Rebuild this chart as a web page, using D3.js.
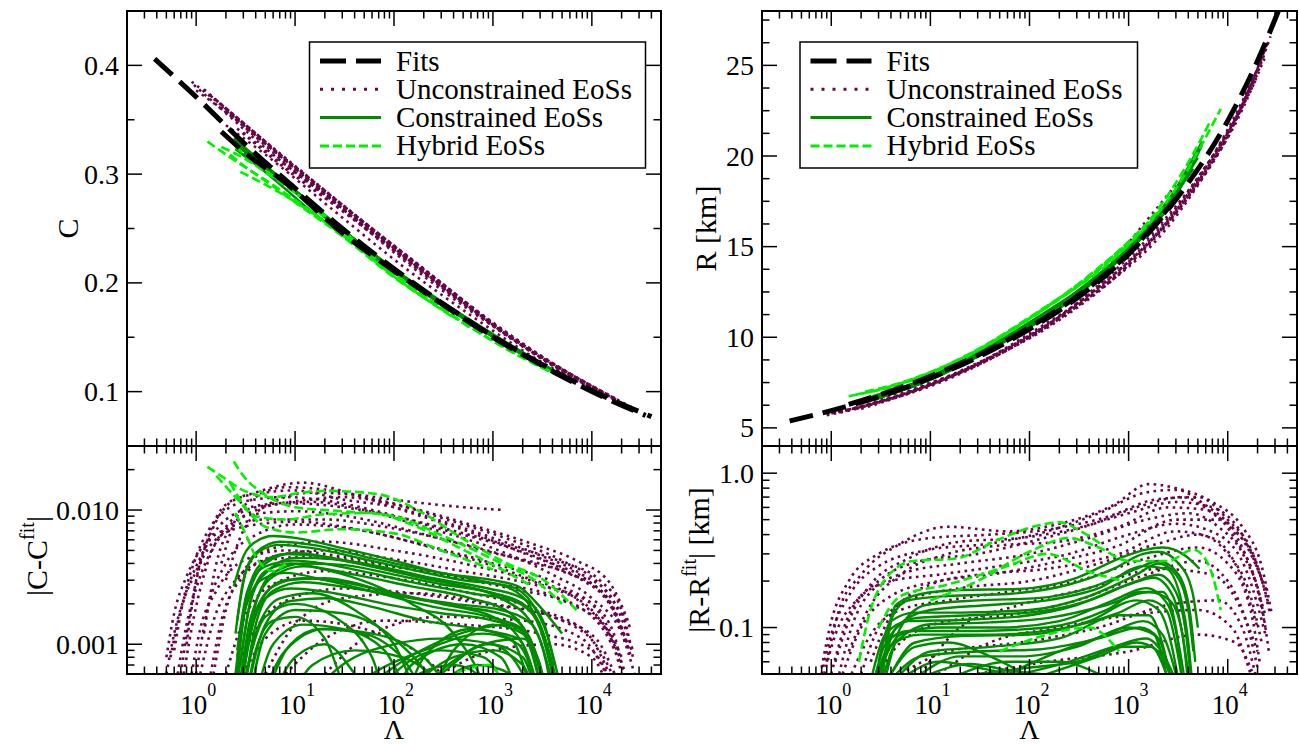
<!DOCTYPE html>
<html>
<head>
<meta charset="utf-8">
<title>Universal relations</title>
<script src="https://cdn.jsdelivr.net/npm/d3@7"></script>
<style>
  body { margin: 0; background: #fff; }
  svg text { font-family: 'Liberation Serif', serif; }
</style>
</head>
<body>
<svg id="mainsvg" width="1299" height="744"></svg>
<script>

// ---- data: [Lambda, value] ----
// fits (black dashed)
const fitC  = [[0.38,0.406],[1,0.371],[3,0.329],[10,0.287],[30,0.250],[100,0.213],[300,0.182],[1000,0.151],[3000,0.126],[10000,0.101],[40000,0.077]];
const fitC2 = [[1.8,0.339],[3,0.321],[8,0.292],[30,0.246],[100,0.211],[300,0.181],[1000,0.150],[3000,0.125],[10000,0.100],[35000,0.078]];
const fitR  = [[0.38,5.38],[1,5.95],[3,6.71],[10,7.75],[30,8.9],[100,10.45],[300,12.15],[1000,14.58],[3000,17.6],[10000,21.94],[20000,25.25],[33000,28.1]];
const fitR2 = [[1.5,6.3],[3,6.8],[10,7.85],[30,9.0],[100,10.55],[300,12.25],[1000,14.65],[3000,17.65]];

// C vs Lambda
const unconC = [
  [[0.9,0.385],[2,0.360],[5,0.330],[20,0.285],[100,0.232],[500,0.182],[2000,0.142],[8000,0.110],[25000,0.086]],
  [[1.2,0.378],[3,0.347],[10,0.307],[50,0.256],[300,0.200],[1500,0.150],[6000,0.115],[20000,0.090]],
  [[1.6,0.368],[4,0.336],[15,0.294],[80,0.240],[400,0.189],[2000,0.143],[8000,0.109],[22000,0.087]],
  [[2.2,0.355],[6,0.322],[30,0.270],[150,0.222],[800,0.170],[4000,0.126],[15000,0.096]],
  [[1,0.377],[2.5,0.350],[8,0.310],[40,0.260],[200,0.212],[1000,0.163],[5000,0.121],[18000,0.093]],
  [[3,0.338],[10,0.300],[60,0.245],[300,0.196],[1500,0.149],[7000,0.111],[20000,0.089]],
  [[2,0.345],[5,0.318],[25,0.266],[120,0.216],[600,0.170],[3000,0.128],[12000,0.099]],
  [[0.95,0.382],[2,0.356],[6,0.318],[25,0.274],[120,0.225],[600,0.176],[3000,0.133],[10000,0.105],[26000,0.084]],
  [[1.4,0.372],[3.5,0.342],[12,0.300],[60,0.250],[350,0.195],[1800,0.146],[7000,0.112],[21000,0.088]],
  [[1.8,0.362],[5,0.328],[20,0.282],[100,0.228],[500,0.179],[2500,0.137],[9000,0.106]],
  [[2.6,0.342],[8,0.305],[35,0.262],[180,0.213],[900,0.165],[4000,0.124],[14000,0.097]]
];
const consC = [
  [[2.5,0.330],[5,0.308],[20,0.262],[100,0.212],[500,0.168],[2000,0.134],[5000,0.115]],
  [[2.6,0.326],[6,0.301],[25,0.255],[120,0.206],[600,0.163],[2500,0.129],[4500,0.117]],
  [[3,0.322],[8,0.292],[40,0.240],[200,0.193],[1000,0.151],[3500,0.122]],
  [[2.5,0.323],[5,0.302],[15,0.265],[80,0.216],[400,0.173],[1800,0.137],[4000,0.119]],
  [[2.4,0.333],[4,0.316],[12,0.277],[60,0.227],[300,0.183],[1500,0.143],[4800,0.116]],
  [[3,0.319],[7,0.296],[30,0.249],[150,0.201],[800,0.158],[3000,0.126]]
];
const hybC = [
  [[1.3,0.330],[2,0.318],[4,0.300],[10,0.274],[30,0.243],[100,0.205],[300,0.176],[800,0.152]],
  [[2.2,0.318],[3,0.308],[6,0.290],[15,0.265],[50,0.228],[200,0.188],[600,0.158]],
  [[2.5,0.325],[4,0.310],[8,0.290],[20,0.260],[80,0.215],[300,0.177],[1200,0.142],[5000,0.113]],
  [[2.8,0.302],[4,0.295],[8,0.280],[25,0.250],[100,0.206],[400,0.168]],
  [[1.8,0.325],[3,0.315],[6,0.297],[20,0.262],[70,0.220],[250,0.182],[1000,0.147],[3000,0.123],[7000,0.108]]
];

// |C - C_fit|
const unconDC = [
  [[0.5,0.0006],[0.6,0.0012],[0.8,0.0025],[1.2,0.005],[2,0.0085],[5,0.011],[15,0.0115],[50,0.010],[200,0.0075],[1000,0.0052],[4000,0.0033],[10000,0.0022],[20000,0.0012],[27000,0.0006]],
  [[0.7,0.0006],[0.9,0.002],[1.3,0.006],[2,0.011],[4,0.0135],[12,0.016],[40,0.013],[150,0.0095],[600,0.0068],[2000,0.0048],[6000,0.0034],[15000,0.002],[22000,0.001]],
  [[1,0.0006],[1.3,0.0018],[2,0.004],[4,0.0065],[10,0.0078],[40,0.0072],[200,0.0055],[1000,0.0040],[5000,0.0027],[12000,0.0017],[20000,0.0008]],
  [[0.55,0.0008],[0.7,0.0018],[1,0.0035],[1.5,0.0058],[3,0.0075],[10,0.0082],[50,0.0070],[300,0.0050],[2000,0.0032],[8000,0.0020],[16000,0.0011],[22000,0.0006]],
  [[1.5,0.0006],[2,0.0018],[3,0.0035],[6,0.0052],[20,0.0058],[100,0.0050],[500,0.0040],[3000,0.0028],[10000,0.0018],[18000,0.0009]],
  [[2,0.0006],[3,0.0015],[6,0.0028],[20,0.0035],[100,0.0031],[600,0.0024],[3000,0.0018],[9000,0.0012],[15000,0.0006]],
  [[1.2,0.0012],[1.6,0.004],[2.5,0.008],[5,0.0105],[15,0.0120],[30,0.0125],[100,0.011],[400,0.0082],[1500,0.006],[5000,0.0042],[12000,0.0028],[25000,0.0013]],
  [[5,0.0006],[10,0.0014],[30,0.0022],[150,0.0024],[1000,0.0020],[5000,0.0015],[12000,0.0009],[18000,0.0005]],
  [[0.8,0.0010],[1,0.003],[1.5,0.0075],[2.5,0.012],[5,0.0135],[10,0.014],[30,0.012],[100,0.0105],[300,0.0083],[1000,0.0062],[3000,0.0046],[8000,0.0033],[16000,0.0022],[26000,0.0009]],
  [[0.9,0.0006],[1.1,0.0013],[1.6,0.0025],[3,0.0042],[8,0.0050],[30,0.0045],[150,0.0036],[800,0.0029],[4000,0.0023],[12000,0.0014],[20000,0.0007]],
  [[20,0.0006],[60,0.0012],[300,0.0016],[2000,0.0015],[8000,0.0011],[14000,0.0006]],
  [[2,0.003],[3,0.007],[6,0.0115],[15,0.0135],[40,0.013],[150,0.0115],[500,0.0105],[1300,0.010]],
  [[3,0.0006],[5,0.0011],[12,0.0015],[50,0.0013],[200,0.0008],[500,0.0004]],
  [[300,0.0006],[1000,0.0009],[4000,0.0010],[10000,0.0008],[16000,0.0004]],
  [[0.6,0.0009],[0.75,0.0022],[1,0.0045],[1.4,0.0075],[2.2,0.0105],[4,0.012],[8,0.0125],[20,0.0118],[80,0.0095],[300,0.0072],[1200,0.0055],[4000,0.004],[9000,0.003],[17000,0.0018],[24000,0.0009]],
  [[1.1,0.0006],[1.5,0.0015],[2.5,0.003],[5,0.0042],[15,0.0045],[60,0.0040],[300,0.0033],[1500,0.0026],[6000,0.0020],[14000,0.0013],[20000,0.0006]],
  [[0.65,0.0006],[0.8,0.0014],[1.1,0.0032],[1.8,0.0065],[3.5,0.0092],[10,0.0098],[40,0.0088],[200,0.0066],[1000,0.0048],[5000,0.0035],[13000,0.0024],[23000,0.001]],
  [[0.5,0.0008],[0.6,0.0017],[0.8,0.0032],[1.2,0.0055],[2,0.0072],[5,0.0085],[20,0.0085],[80,0.0075],[400,0.0058],[2000,0.0042],[8000,0.0030],[16000,0.0019],[25000,0.0008]],
  [[1.4,0.0006],[1.8,0.0015],[3,0.0032],[6,0.0045],[20,0.0050],[100,0.0043],[500,0.0035],[2500,0.0028],[9000,0.0021],[16000,0.0013],[21000,0.0006]],
  [[2.5,0.0006],[4,0.0013],[8,0.0021],[30,0.0026],[150,0.0024],[800,0.0020],[4000,0.0016],[11000,0.0011],[17000,0.0006]],
  [[0.75,0.0006],[0.95,0.0016],[1.3,0.004],[2,0.0075],[4,0.0105],[10,0.0112],[30,0.0105],[100,0.009],[400,0.007],[1500,0.0054],[5000,0.0041],[12000,0.003],[20000,0.0018],[26000,0.0008]],
  [[8,0.0006],[20,0.0011],[80,0.0015],[500,0.0014],[3000,0.0012],[10000,0.0009],[16000,0.0005]],
  [[1.8,0.004],[2.5,0.0085],[4,0.0125],[8,0.0148],[20,0.0142],[60,0.0122],[200,0.0098],[700,0.0075],[2500,0.0056],[7000,0.0042],[15000,0.0029],[24000,0.0014]]
];
const consDC = [
  [[2.4,0.0027],[3,0.0045],[4,0.0058],[6,0.0064],[10,0.0062],[30,0.0052],[100,0.0042],[300,0.0034],[1000,0.0030],[1800,0.0027],[3000,0.0019],[5000,0.0012]],
  [[2.5,0.0012],[3,0.003],[4,0.0048],[7,0.0058],[15,0.0055],[50,0.0045],[200,0.0036],[700,0.0030],[1500,0.0026],[2500,0.0018],[3500,0.0010],[4500,0.0005]],
  [[2.6,0.0006],[3.2,0.002],[5,0.004],[10,0.0048],[30,0.0042],[100,0.0035],[400,0.0028],[1200,0.0022],[2500,0.0014],[3500,0.0007],[4000,0.0004]],
  [[2.7,0.0004],[3.5,0.0015],[6,0.0032],[12,0.0038],[40,0.0033],[150,0.0027],[600,0.0022],[1500,0.0017],[2500,0.0009],[3200,0.0004]],
  [[2.8,0.0004],[4,0.0018],[8,0.0030],[20,0.0031],[80,0.0025],[300,0.0020],[1000,0.0016],[2000,0.0010],[2800,0.0004]],
  [[3,0.0004],[4,0.0012],[7,0.0022],[15,0.0024],[40,0.0018],[100,0.0010],[200,0.0004],[400,0.0009],[1000,0.0014],[2000,0.0012],[3000,0.0005]],
  [[3,0.0005],[5,0.0016],[10,0.0020],[25,0.0016],[60,0.0008],[100,0.0003],[200,0.0008],[600,0.0013],[1500,0.0011],[2500,0.0004]],
  [[2.5,0.0004],[3.5,0.0020],[5,0.0035],[9,0.0040],[20,0.0036],[60,0.0028],[150,0.0020],[400,0.0012],[800,0.0005],[1000,0.0003]],
  [[3.5,0.0004],[5,0.0012],[10,0.0018],[30,0.0017],[100,0.0011],[250,0.0005],[350,0.0003]],
  [[4,0.0003],[8,0.0009],[20,0.0013],[60,0.0012],[200,0.0008],[500,0.0003]],
  [[10,0.0003],[30,0.0007],[100,0.0010],[300,0.0011],[1000,0.0010],[2000,0.0006],[2600,0.0003]],
  [[20,0.0003],[60,0.0006],[200,0.0009],[800,0.0012],[1800,0.0010],[3000,0.0004]],
  [[2.6,0.0008],[3.5,0.0028],[5,0.0042],[8,0.0047],[20,0.0045],[60,0.0038],[200,0.0031],[800,0.0025],[2000,0.0020],[3000,0.0013],[4000,0.0006]],
  [[3,0.0004],[4,0.0014],[6,0.0025],[12,0.0029],[40,0.0026],[150,0.0022],[500,0.0019],[1500,0.0016],[2500,0.0010],[3500,0.0004]],
  [[2.9,0.0005],[4,0.0020],[6,0.0034],[12,0.0040],[30,0.0039],[100,0.0033],[300,0.0028],[1000,0.0024],[2200,0.0019],[3500,0.0010],[4500,0.0004]],
  [[5,0.0003],[10,0.0008],[20,0.0010],[40,0.0006],[70,0.0003],[150,0.0007],[500,0.0010],[1200,0.0008],[2000,0.0003]],
  [[3,0.0003],[4,0.0009],[6,0.0015],[10,0.0016],[20,0.0011],[35,0.0004],[50,0.0003],[100,0.0006],[300,0.0009],[800,0.0008],[1500,0.0004]],
  [[50,0.0003],[150,0.0005],[400,0.0008],[1000,0.0009],[2000,0.0007],[3000,0.0003]],
  [[2.6,0.0015],[3.2,0.0035],[4.5,0.0050],[7,0.0055],[15,0.0052],[50,0.0043],[150,0.0036],[500,0.0030],[1500,0.0027],[2500,0.0020],[3500,0.0012],[4500,0.0006]],
  [[6,0.0003],[12,0.0006],[30,0.0005],[60,0.0003],[120,0.0005],[400,0.0007],[900,0.0005],[1300,0.0003]],
  [[2.5,0.0006],[3,0.0016],[4.5,0.0030],[8,0.0034],[20,0.0030],[70,0.0024],[250,0.0019],[900,0.0016],[2000,0.0013],[3000,0.0007]],
  [[2.7,0.0005],[3.5,0.0012],[5,0.0022],[9,0.0026],[25,0.0024],[80,0.0020],[300,0.0017],[1000,0.0015],[2200,0.0012],[3200,0.0005]],
  [[3.2,0.0004],[5,0.0014],[9,0.0021],[20,0.0022],[60,0.0019],[200,0.0015],[700,0.0013],[1800,0.0011],[2800,0.0005]],
  [[2.6,0.0009],[3.3,0.0025],[5,0.0038],[10,0.0042],[40,0.0036],[150,0.0029],[600,0.0024],[1600,0.0021],[2800,0.0015],[4000,0.0007]],
  [[4,0.0004],[6,0.0010],[12,0.0014],[30,0.0013],[80,0.0009],[150,0.0004],[250,0.0003]],
  [[8,0.0003],[15,0.0007],[40,0.0009],[120,0.0008],[300,0.0005],[500,0.0003]],
  [[30,0.0003],[80,0.0006],[250,0.0010],[700,0.0013],[1500,0.0014],[2500,0.0010],[3500,0.0004]],
  [[100,0.0003],[300,0.0006],[800,0.0010],[2000,0.0011],[3000,0.0007],[3800,0.0003]],
  [[3,0.0006],[4,0.0017],[6,0.0027],[12,0.0031],[40,0.0028],[120,0.0023],[400,0.0020],[1200,0.0018],[2500,0.0014],[3800,0.0006]],
  [[2.8,0.0007],[3.6,0.0022],[5.5,0.0036],[10,0.0044],[25,0.0043],[70,0.0038],[250,0.0031],[900,0.0026],[2000,0.0022],[3200,0.0015],[4200,0.0007]],
  [[5,0.0004],[9,0.0010],[18,0.0013],[50,0.0012],[120,0.0008],[200,0.0005],[350,0.0007],[900,0.0010],[2000,0.0008],[2800,0.0004]],
  [[15,0.0003],[40,0.0005],[100,0.0004],[180,0.0003],[300,0.0005],[700,0.0007],[1500,0.0006],[2200,0.0003]]
];
const hybDC = [
  [[1.3,0.021],[2,0.017],[3,0.014],[6,0.0125],[12,0.0135],[20,0.0139],[70,0.0131],[190,0.0096],[500,0.0061],[1300,0.0041],[3500,0.0029],[7000,0.0018]],
  [[2.4,0.023],[3,0.018],[5,0.013],[10,0.0105],[30,0.0098],[100,0.009],[300,0.0065],[1000,0.0043],[3000,0.0028],[5000,0.002]],
  [[1.6,0.018],[2.5,0.0125],[4,0.009],[8,0.0085],[20,0.0093],[60,0.0095],[150,0.0078],[400,0.0055],[1000,0.0039],[2500,0.0027]],
  [[2.2,0.016],[3,0.011],[5,0.0075],[10,0.0068],[30,0.0072],[100,0.0067],[300,0.005],[1000,0.0036]],
  [[2.5,0.0095],[3.2,0.0065],[4,0.0045],[6,0.0035],[8,0.004]],
  [[150,0.0004],[400,0.0006],[900,0.0007],[1300,0.0005]]
];

// R vs Lambda
const unconR = [
  [[0.9,5.75],[2,6.2],[5,6.95],[20,8.1],[100,10.0],[500,12.9],[2000,16.1],[8000,20.5],[20000,24.6],[27000,26.6]],
  [[1.2,5.85],[3,6.45],[10,7.4],[50,9.15],[300,11.7],[1500,15.0],[6000,19.2],[15000,23.2],[25000,26.2]],
  [[2,6.05],[6,6.9],[30,8.5],[200,10.95],[1000,14.0],[4000,17.9],[12000,21.8],[24000,25.5]],
  [[3,6.4],[10,7.3],[60,9.3],[400,12.2],[2500,16.1],[9000,20.7],[20000,24.4]],
  [[1.5,6.0],[4,6.65],[15,7.85],[80,9.8],[500,12.8],[3000,16.9],[10000,21.3],[22000,25.3]],
  [[0.9,5.7],[2.5,6.25],[8,7.2],[40,8.8],[250,11.5],[1200,14.6],[5000,18.8],[14000,22.8],[26000,26.4]],
  [[200,11.6],[600,13.8],[1500,16.4],[3000,18.4]],
  [[1,5.8],[2.5,6.3],[7,7.05],[30,8.55],[150,10.7],[800,13.5],[3500,17.3],[11000,21.5],[23000,25.7]],
  [[1.8,6.05],[5,6.8],[20,8.05],[100,10.2],[600,13.1],[3000,17.0],[9000,21.0],[19000,24.5]]
];
const consR = [
  [[2.5,6.6],[6,7.25],[20,8.5],[100,10.65],[500,13.4],[2000,16.7],[5000,19.9]],
  [[2.7,6.55],[8,7.45],[30,9.0],[150,11.3],[800,14.3],[3000,17.8],[5500,20.6]],
  [[3,6.65],[10,7.65],[50,9.6],[300,12.3],[1500,15.8],[4500,19.3]],
  [[2.6,6.75],[5,7.2],[15,8.3],[70,10.3],[400,13.0],[2000,16.8],[4000,19.2]],
  [[4,6.95],[12,8.0],[40,9.3],[200,11.8],[1000,14.9],[3500,18.6]],
  [[2.5,6.7],[7,7.4],[25,8.8],[120,11.1],[700,14.1],[2500,17.5],[5500,20.8]],
  [[3.5,6.9],[10,7.7],[40,9.35],[250,12.2],[1200,15.4],[4000,19.0]]
];
const hybR = [
  [[1.5,6.75],[3,7.1],[8,7.85],[30,9.3],[150,11.7],[700,14.3],[3000,18.2],[8500,22.6]],
  [[2.2,7.0],[5,7.45],[20,8.75],[80,10.7],[400,13.3],[1500,16.2],[5000,20.6],[6500,21.8]],
  [[1.8,6.85],[4,7.25],[12,8.2],[50,9.95],[250,12.55],[1000,15.2]],
  [[3,7.15],[7,7.75],[25,9.1],[100,11.1],[500,13.8],[2000,16.9]]
];

// |R - R_fit| [km]
const unconDR = [
  [[0.8,0.05],[1,0.09],[1.5,0.16],[3,0.25],[10,0.32],[40,0.35],[150,0.42],[500,0.55],[1500,0.75],[3000,0.78],[6000,0.62],[12000,0.42],[20000,0.25],[27000,0.12]],
  [[1.2,0.05],[1.6,0.1],[2.5,0.17],[6,0.23],[20,0.26],[100,0.3],[400,0.38],[1500,0.5],[4000,0.55],[8000,0.45],[15000,0.28],[22000,0.14],[26000,0.07]],
  [[2,0.05],[3,0.1],[6,0.15],[20,0.18],[100,0.2],[500,0.26],[2000,0.35],[5000,0.4],[10000,0.3],[17000,0.16],[22000,0.08]],
  [[3,0.05],[5,0.08],[15,0.11],[60,0.12],[300,0.15],[1500,0.22],[5000,0.27],[10000,0.2],[16000,0.1],[20000,0.055]],
  [[0.9,0.06],[1.2,0.13],[2,0.22],[5,0.35],[15,0.45],[60,0.42],[200,0.47],[700,0.62],[1600,0.85],[3000,0.8],[7000,0.65],[14000,0.45],[22000,0.25],[28000,0.12]],
  [[5,0.05],[15,0.07],[80,0.08],[500,0.1],[2500,0.14],[8000,0.15],[14000,0.1],[19000,0.05]],
  [[1.5,0.07],[2.5,0.14],[5,0.22],[15,0.3],[50,0.34],[200,0.36],[800,0.45],[2500,0.6],[6000,0.58],[12000,0.37],[19000,0.2],[24000,0.1]],
  [[30,0.05],[150,0.06],[1000,0.07],[5000,0.09],[12000,0.08],[18000,0.05]],
  [[1,0.05],[1.5,0.12],[3,0.2],[8,0.27],[30,0.3],[120,0.37],[400,0.46],[1200,0.6],[3500,0.7],[7000,0.55],[15000,0.35],[25000,0.17]],
  [[8,0.05],[20,0.1],[80,0.14],[400,0.18],[2000,0.24],[7000,0.22],[13000,0.14],[20000,0.07]],
  [[0.85,0.05],[1.1,0.09],[1.8,0.15],[4,0.2],[12,0.22],[50,0.25],[250,0.3],[1000,0.4],[3000,0.47],[8000,0.4],[16000,0.22],[24000,0.09]],
  [[2.5,0.06],[4,0.12],[10,0.19],[30,0.22],[150,0.24],[800,0.3],[3000,0.42],[7000,0.38],[13000,0.23],[20000,0.1]],
  [[0.8,0.055],[1,0.11],[1.5,0.2],[3,0.3],[10,0.38],[40,0.4],[150,0.43],[600,0.52],[2000,0.68],[5000,0.7],[10000,0.5],[18000,0.3],[26000,0.14]],
  [[1.6,0.05],[2.5,0.09],[5,0.13],[15,0.15],[60,0.17],[300,0.2],[1500,0.28],[5000,0.33],[10000,0.26],[17000,0.13],[21000,0.06]],
  [[1.1,0.06],[1.5,0.11],[2.5,0.19],[6,0.28],[20,0.36],[80,0.38],[300,0.44],[1000,0.55],[3000,0.65],[7000,0.6],[14000,0.4],[23000,0.19]],
  [[12,0.05],[40,0.08],[200,0.1],[1000,0.12],[5000,0.13],[11000,0.1],[17000,0.05]],
  [[1.3,0.05],[2,0.1],[4,0.16],[12,0.2],[40,0.22],[200,0.27],[800,0.34],[3000,0.5],[8000,0.5],[15000,0.3],[24000,0.12]]
];
const consDR = [
  [[3.5,0.08],[4.5,0.14],[8,0.165],[20,0.175],[80,0.178],[300,0.21],[800,0.28],[1500,0.32],[2200,0.33],[3800,0.29],[5200,0.24]],
  [[3,0.06],[4,0.11],[7,0.125],[20,0.125],[100,0.13],[400,0.16],[1200,0.22],[2000,0.26],[3000,0.22],[4000,0.13],[4500,0.07]],
  [[2.6,0.05],[3.5,0.09],[6,0.11],[20,0.112],[80,0.118],[300,0.14],[1000,0.19],[1800,0.21],[2800,0.16],[3600,0.08],[4000,0.05]],
  [[3,0.05],[5,0.09],[12,0.1],[50,0.1],[200,0.11],[700,0.15],[1500,0.18],[2500,0.14],[3300,0.07],[3600,0.05]],
  [[4,0.05],[7,0.08],[20,0.088],[100,0.09],[400,0.11],[1200,0.15],[2000,0.13],[2800,0.07],[3100,0.05]],
  [[5,0.05],[10,0.07],[40,0.075],[200,0.085],[800,0.12],[1600,0.12],[2300,0.07],[2600,0.05]],
  [[3.2,0.05],[4.5,0.1],[10,0.13],[40,0.14],[150,0.15],[500,0.18],[1400,0.25],[2400,0.24],[3400,0.15],[4000,0.08],[4300,0.05]],
  [[8,0.05],[20,0.065],[80,0.065],[300,0.075],[1000,0.1],[1800,0.09],[2400,0.05]],
  [[4,0.05],[7,0.075],[15,0.08],[40,0.065],[90,0.05]],
  [[60,0.05],[200,0.07],[600,0.09],[1400,0.11],[2200,0.09],[3000,0.05]],
  [[20,0.05],[60,0.06],[200,0.06],[500,0.05]],
  [[150,0.05],[500,0.065],[1200,0.08],[2000,0.07],[2600,0.05]],
  [[3.3,0.05],[4.2,0.12],[6,0.15],[15,0.16],[60,0.165],[250,0.19],[700,0.24],[1400,0.3],[2000,0.31],[3200,0.26],[4400,0.17],[5000,0.1]],
  [[2.8,0.05],[3.6,0.08],[6,0.095],[30,0.095],[150,0.1],[600,0.13],[1300,0.17],[2200,0.17],[3000,0.1],[3400,0.05]],
  [[6,0.05],[12,0.06],[30,0.055],[60,0.05]],
  [[30,0.05],[100,0.055],[300,0.06],[900,0.075],[1700,0.075],[2400,0.05]],
  [[3.1,0.05],[4,0.09],[7,0.115],[25,0.12],[100,0.125],[400,0.15],[1200,0.2],[2000,0.22],[3000,0.17],[3800,0.09],[4200,0.05]],
  [[2.9,0.05],[3.8,0.075],[8,0.09],[40,0.09],[200,0.098],[800,0.125],[1600,0.15],[2400,0.13],[3100,0.07],[3400,0.05]],
  [[3.6,0.05],[5,0.1],[9,0.14],[30,0.15],[120,0.155],[450,0.185],[1200,0.24],[2000,0.27],[3200,0.22],[4200,0.12],[4700,0.06]],
  [[4.5,0.05],[8,0.065],[30,0.07],[120,0.072],[500,0.085],[1300,0.1],[2000,0.085],[2600,0.05]],
  [[3.4,0.05],[4.5,0.08],[10,0.105],[40,0.108],[150,0.115],[600,0.14],[1600,0.17],[2600,0.15],[3500,0.09],[3900,0.05]],
  [[10,0.05],[25,0.058],[70,0.052],[130,0.05]],
  [[80,0.05],[250,0.06],[700,0.075],[1500,0.085],[2300,0.065],[2800,0.05]]
];
const hybDR = [
  [[1.9,0.06],[2.4,0.12],[3.4,0.2],[6.7,0.27],[18,0.28],[48,0.37],[125,0.46],[200,0.48],[330,0.42],[550,0.34]],
  [[10,0.15],[30,0.2],[100,0.31],[250,0.38],[500,0.33],[1000,0.27],[2500,0.27],[4500,0.32],[6500,0.25],[8500,0.13]],
  [[3,0.1],[5,0.16],[15,0.19],[60,0.25],[150,0.3],[400,0.23],[900,0.2]],
  [[50,0.07],[150,0.09],[400,0.1],[800,0.07]]
];

// tick labels
const xTickExp   = [0, 1, 2, 3, 4];
const cTicks     = [0.1, 0.2, 0.3, 0.4];
const rTicks     = [5, 10, 15, 20, 25];
const dcTicks    = [0.001, 0.01];
const dcTickText = ['0.001', '0.010'];
const drTicks    = [0.1, 1];
const drTickText = ['0.1', '1.0'];
const legendNames = ['Fits', 'Unconstrained EoSs', 'Constrained EoSs', 'Hybrid EoSs'];

// ---- drawing ----
const svg = d3.select('#mainsvg');
const FONT = "'Liberation Serif', serif";

const STYLE = {
  uncon: {stroke: '#670748', width: 2.6, dash: '2.6,4.4'},
  cons:  {stroke: '#008b00', width: 2.4, dash: null},
  hyb:   {stroke: '#00f000', width: 2.6, dash: '9,4'},
  fit:   {stroke: '#000',    width: 5,   dash: '24,10'}
};

const LAM = [0.2, 5e4];
const cols = [{x0: 127, x1: 661}, {x0: 762, x1: 1297}];
const rows = [{y0: 11, y1: 446}, {y0: 446, y1: 674}];

function logMinor(lo, hi) {
  const out = [];
  for (let e = -5; e <= 5; e++) {
    for (let k = 2; k <= 9; k++) {
      const v = k * Math.pow(10, e);
      if (v > lo * 1.001 && v < hi * 0.999) out.push(v);
    }
  }
  return out;
}
function linMinor(lo, hi, step) {
  const out = [];
  for (let v = Math.ceil(lo / step) * step; v < hi - 1e-9; v += step) {
    if (v > lo + 1e-9) out.push(+v.toFixed(6));
  }
  return out;
}

function addText(parent) {
  return parent.append('text').style('font-family', FONT).attr('fill', '#000');
}

let clipId = 0;
function panel(col, row, yScale, sets, yMajor, yMinor, yLabels, showX) {
  const x = d3.scaleLog().domain(LAM).range([col.x0, col.x1]);
  const y = yScale.range([row.y1, row.y0]);
  const id = 'clip' + (clipId++);
  svg.append('clipPath').attr('id', id).append('rect')
    .attr('x', col.x0).attr('y', row.y0)
    .attr('width', col.x1 - col.x0).attr('height', row.y1 - row.y0);
  const g = svg.append('g').attr('clip-path', `url(#${id})`);
  const line = d3.line().x(d => x(d[0])).y(d => y(d[1])).curve(d3.curveMonotoneX);

  sets.forEach(([curves, st]) => {
    g.append('g').selectAll('path').data(curves).enter().append('path')
      .attr('d', line)
      .attr('fill', 'none')
      .attr('stroke', st.stroke)
      .attr('stroke-width', st.width)
      .attr('stroke-dasharray', st.dash)
      .attr('stroke-linejoin', 'round');
  });

  const ax = svg.append('g').attr('stroke', '#000').attr('stroke-width', 1.5);
  const xMajor = xTickExp.map(e => Math.pow(10, e));
  const xMinor = logMinor(LAM[0], LAM[1]);
  [[xMajor, 15], [xMinor, 7.5]].forEach(([vals, len]) => {
    vals.forEach(v => {
      const px = x(v);
      ax.append('line').attr('x1', px).attr('x2', px).attr('y1', row.y1).attr('y2', row.y1 - len);
      ax.append('line').attr('x1', px).attr('x2', px).attr('y1', row.y0).attr('y2', row.y0 + len);
    });
  });
  [[yMajor, 15], [yMinor, 7.5]].forEach(([vals, len]) => {
    vals.forEach(v => {
      const py = y(v);
      ax.append('line').attr('y1', py).attr('y2', py).attr('x1', col.x0).attr('x2', col.x0 + len);
      ax.append('line').attr('y1', py).attr('y2', py).attr('x1', col.x1).attr('x2', col.x1 - len);
    });
  });
  svg.append('rect').attr('x', col.x0).attr('y', row.y0)
    .attr('width', col.x1 - col.x0).attr('height', row.y1 - row.y0)
    .attr('fill', 'none').attr('stroke', '#000').attr('stroke-width', 2);

  yMajor.forEach((v, i) => {
    addText(svg).attr('x', col.x0 - 8).attr('y', y(v) + 9.5)
      .attr('text-anchor', 'end').attr('font-size', 28).text(yLabels[i]);
  });
  if (showX) {
    xTickExp.forEach(e => {
      const t = addText(svg).attr('x', x(Math.pow(10, e)) + 2).attr('y', 714)
        .attr('text-anchor', 'middle').attr('font-size', 27);
      t.append('tspan').text('10');
      t.append('tspan').attr('dy', -18).attr('font-size', 18).text(e);
    });
  }
  return {x, y};
}

function legend(x0, x1, sample0) {
  const g = svg.append('g');
  g.append('rect').attr('x', x0).attr('y', 42).attr('width', x1 - x0).attr('height', 126)
    .attr('fill', '#fff').attr('stroke', '#000').attr('stroke-width', 1.5);
  const sts = [STYLE.fit, STYLE.uncon, STYLE.cons, STYLE.hyb];
  legendNames.forEach((name, i) => {
    const yc = 61 + i * 28.3;
    const st = sts[i];
    g.append('line').attr('x1', sample0).attr('x2', sample0 + 61).attr('y1', yc).attr('y2', yc)
      .attr('stroke', st.stroke).attr('stroke-width', st === STYLE.fit ? 5 : 3)
      .attr('stroke-dasharray', st === STYLE.fit ? '26,10' : (st === STYLE.uncon ? '3,8' : st.dash));
    addText(g).attr('x', sample0 + 76).attr('y', yc + 9.5)
      .attr('font-size', 29).text(name);
  });
}

const bandOrder = (u, c, h, f) => [[u, STYLE.uncon], [c, STYLE.cons], [h, STYLE.hyb]].concat(f ? [[f, STYLE.fit]] : []);

// top-left: C
panel(cols[0], rows[0], d3.scaleLinear().domain([0.05, 0.45]),
  bandOrder(unconC, consC, hybC, [fitC, fitC2]),
  cTicks, linMinor(0.05, 0.45, 0.05).filter(v => !cTicks.some(t => Math.abs(t - v) < 1e-6)),
  cTicks.map(v => v.toFixed(1)), false);
// bottom-left: |C - C_fit|
panel(cols[0], rows[1], d3.scaleLog().domain([0.0006, 0.03]),
  bandOrder(unconDC, consDC, hybDC, null),
  dcTicks, logMinor(0.0006, 0.03), dcTickText, true);
// top-right: R
panel(cols[1], rows[0], d3.scaleLinear().domain([4, 28]),
  bandOrder(unconR, consR, hybR, [fitR, fitR2]),
  rTicks, linMinor(4, 28, 1.25).filter(v => !rTicks.some(t => Math.abs(t - v) < 1e-6)),
  rTicks.map(String), false);
// bottom-right: |R - R_fit|
panel(cols[1], rows[1], d3.scaleLog().domain([0.05, 1.5]),
  bandOrder(unconDR, consDR, hybDR, null),
  drTicks, logMinor(0.05, 1.5), drTickText, true);

legend(309.5, 645.5, 320);
legend(800, 1137.5, 810.5);

// axis titles
function vtitle(xb, yc, parts) {
  const t = addText(svg).attr('transform', `translate(${xb},${yc}) rotate(-90)`)
    .attr('text-anchor', 'middle').attr('font-size', 30);
  parts.forEach(p => {
    const s = t.append('tspan').text(p.t);
    if (p.sup) s.attr('dy', -13).attr('font-size', 20);
    if (p.down) s.attr('dy', 13);
  });
}
vtitle(78, 228.5, [{t: 'C'}]);
vtitle(716, 228.5, [{t: 'R [km]'}]);
vtitle(47, 556, [{t: '|C-C'}, {t: 'fit', sup: true}, {t: '|', down: true}]);
vtitle(709, 560, [{t: '|R-R'}, {t: 'fit', sup: true}, {t: '| [km]', down: true}]);

[cols[0], cols[1]].forEach(c => {
  addText(svg).attr('x', (c.x0 + c.x1) / 2).attr('y', 739)
    .attr('text-anchor', 'middle').attr('font-size', 28).text('Λ');
});

</script>
</body>
</html>
